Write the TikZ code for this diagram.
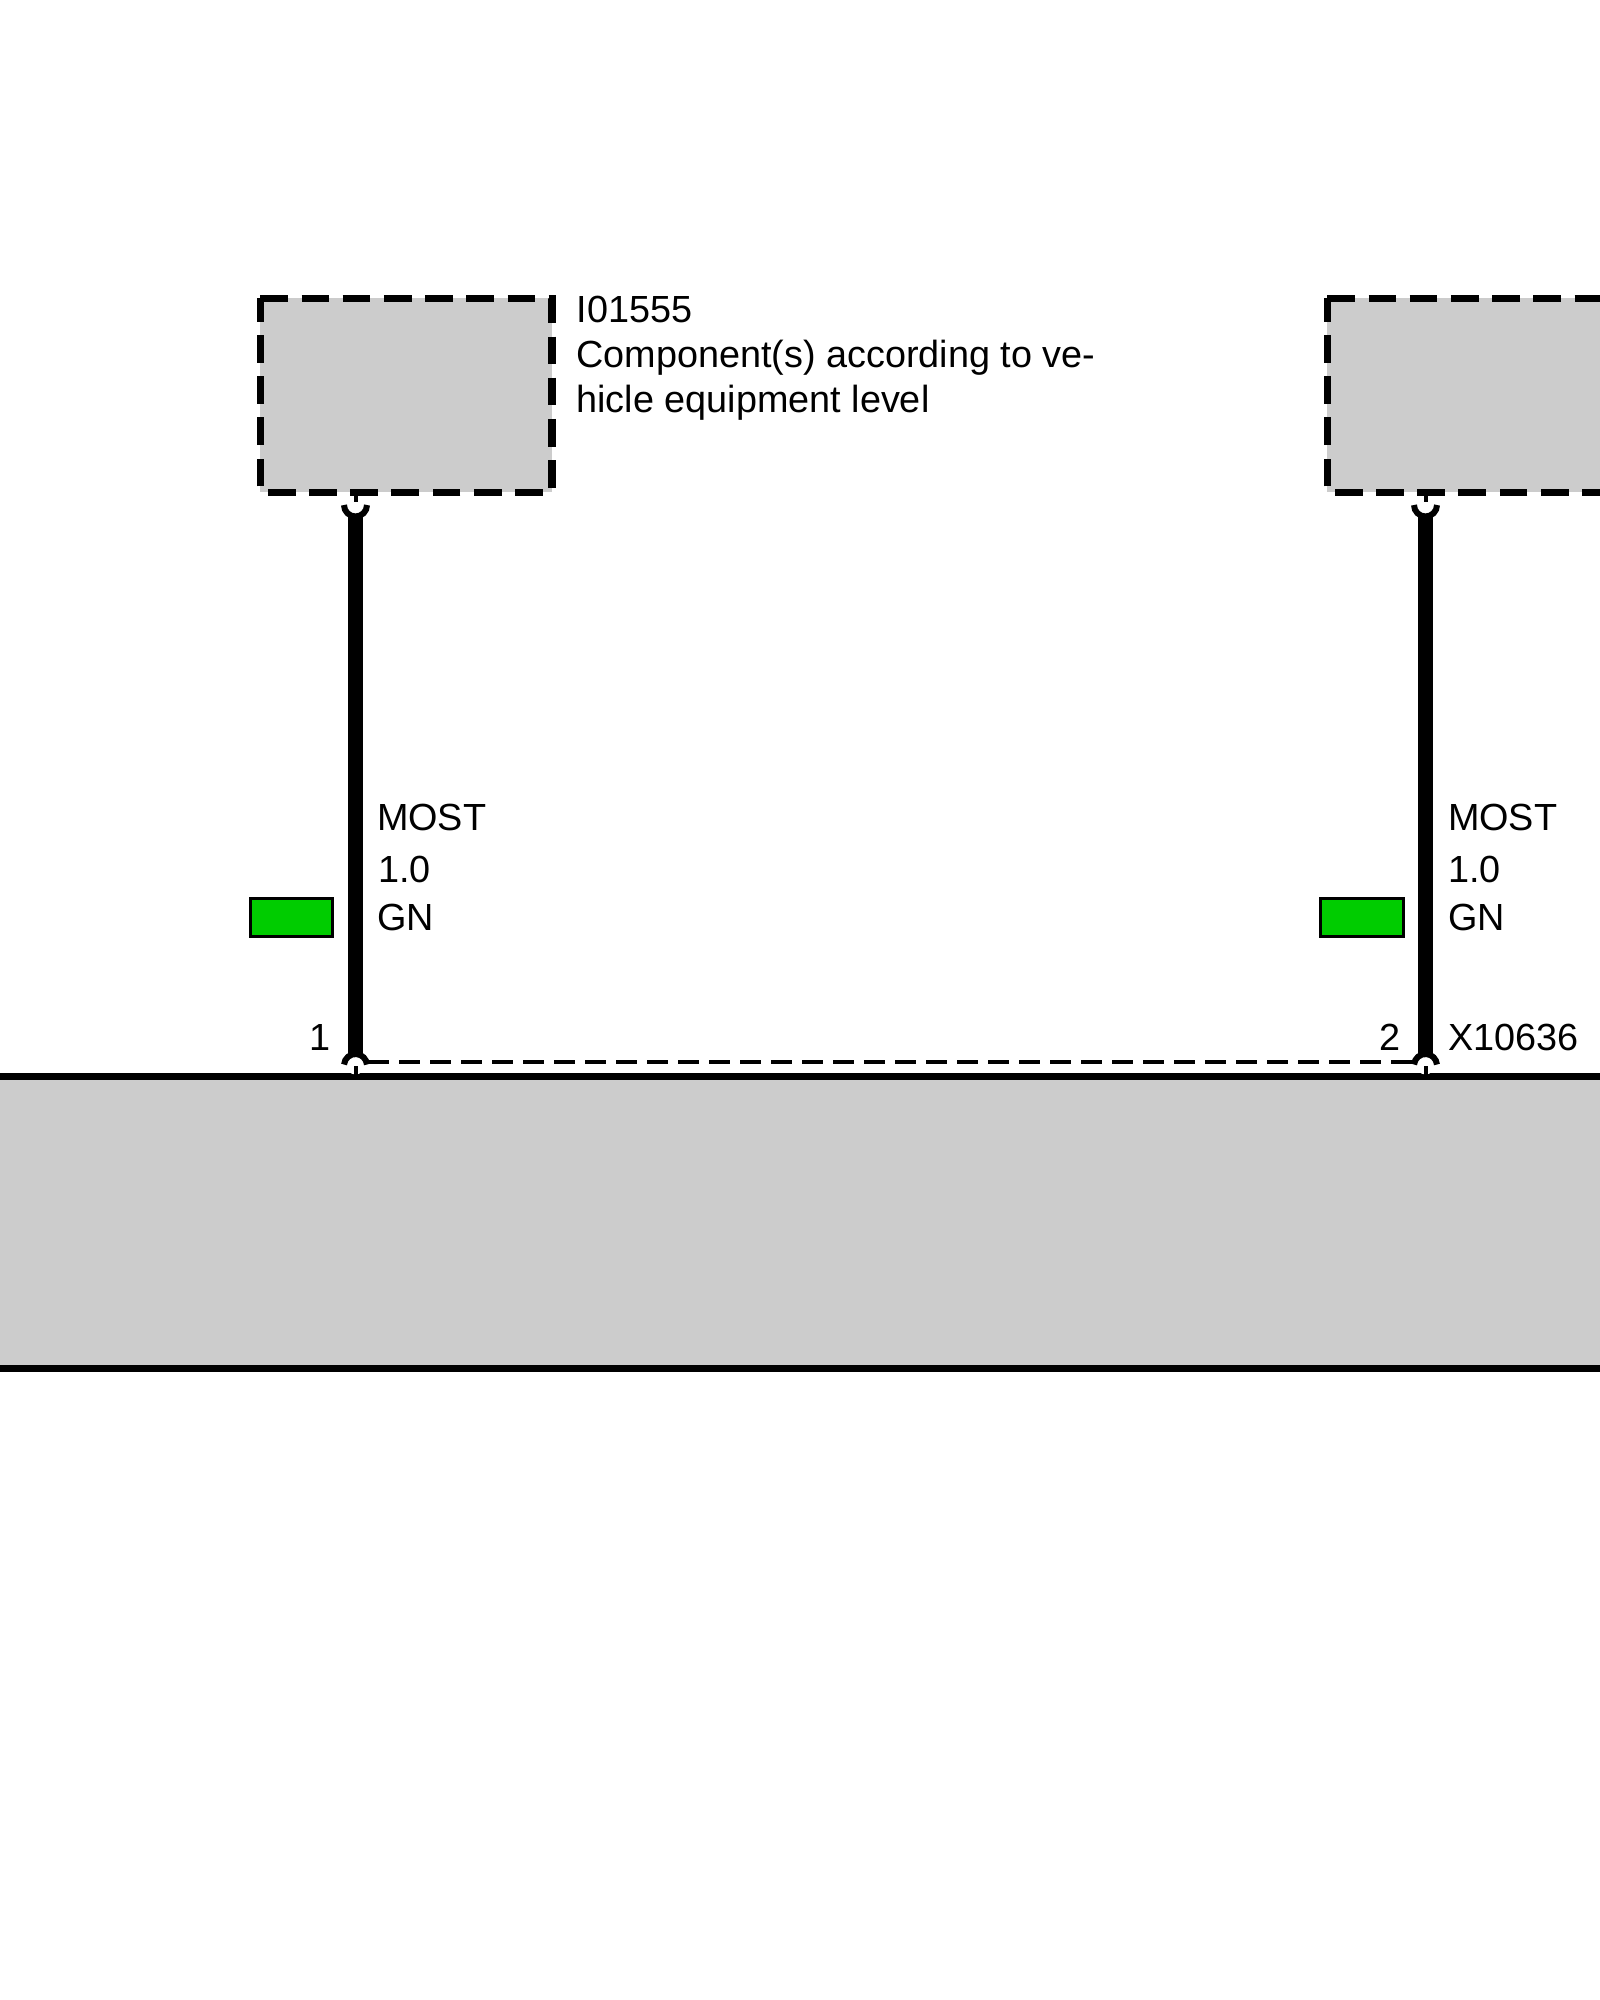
\documentclass[tikz,border=0pt]{standalone}
\usepackage{fontspec}
\setmainfont{Liberation Sans}
\tikzset{
  lbl/.style={anchor=base west,inner sep=0pt,outer sep=0pt,font=\fontsize{37.8}{37.8}\selectfont},
  compbox/.style={fill=boxgray,draw=none,inner sep=0pt,outer sep=0pt,minimum width=291.4pt,minimum height=194pt,anchor=north west},
  boxdash/.style={line width=7.6pt,dash pattern=on 27.7pt off 13.5pt,line join=miter},
  wire/.style={line width=14.6pt},
  cup/.style={line width=6pt},
  tick/.style={line width=4pt},
  swatch/.style={fill=wiregreen,draw=black,line width=3pt,inner sep=0pt,outer sep=0pt,minimum height=38pt,anchor=north west},
  bar/.style={line width=6.9pt}
}
\definecolor{boxgray}{HTML}{CCCCCC}
\definecolor{wiregreen}{HTML}{00CC00}
\begin{document}
\begin{tikzpicture}[x=1pt,y=-1pt]
\clip (0,0) rectangle (1600,2000);
\fill[white] (0,0) rectangle (1600,2000);
% main unit
\node[fill=boxgray,inner sep=0pt,outer sep=0pt,minimum width=1640pt,minimum height=291.6pt,anchor=north west] (unit) at (-20,1076.7) {};
\draw[bar] (unit.north west) -- (unit.north east);
\draw[bar] (unit.south west) -- (unit.south east);
% component boxes
\node[compbox] (c1) at (260.3,298.3) {};
\draw[boxdash] (c1.north west) -- (c1.north east) -- (c1.south east) -- (c1.south west) -- cycle;
\node[compbox] (c2) at (1327.3,298.3) {};
\draw[boxdash] (c2.north west) -- (c2.north east) -- (c2.south east) -- (c2.south west) -- cycle;
% pin coordinates
\coordinate (t1) at (355.5,505);
\coordinate (b1) at (355.5,1065.5);
\coordinate (t2) at (1425.5,505);
\coordinate (b2) at (1425.5,1065.5);
\coordinate (d1) at (368,1062.3);
\coordinate (d2) at (1412,1062.3);
% shield dashed link
\draw[tick,dash pattern=on 20.7pt off 10.3pt] (d1) -- (d2);
% wires
\draw[wire] (t1) ++(0,9) -- (b1);
\draw[wire] (t2) ++(0,9) -- (b2);
% cups
\fill[white] (b1) circle[radius=9pt];
\fill[white] (b2) circle[radius=9pt];
\draw[cup] (t1) ++(-11.5,0) arc[start angle=180,end angle=360,radius=11.5pt];
\draw[cup] (t2) ++(-11.5,0) arc[start angle=180,end angle=360,radius=11.5pt];
\draw[cup] (b1) ++(-11.46,-1) arc[start angle=175,end angle=5,radius=11.5pt];
\draw[cup] (b2) ++(-11.46,-1) arc[start angle=175,end angle=5,radius=11.5pt];
% ticks
\draw[tick] (t1 |- c1.south) -- ++(0,10);
\draw[tick] (t2 |- c2.south) -- ++(0,10);
\draw[tick] (b1 |- unit.north) -- ++(0,-11);
\draw[tick] (b2 |- unit.north) -- ++(0,-11);
% swatches
\node[swatch,minimum width=82.3pt] (s1) at (250,898.3) {};
\node[swatch,minimum width=83pt] (s2) at (1320.6,898.3) {};
% labels
\node[lbl] (n1) at (576.5,322) {I01555};
\node[lbl] (n2) at (576.5,367) {Component(s) according to ve-};
\node[lbl] (n3) at (576.5,412) {hicle equipment level};
\node[lbl] (m1) at (377,830) {MOST};
\node[lbl] (v1) at (378,882) {1.0};
\node[lbl] (g1) at (377,930) {GN};
\node[lbl] (m2) at (1448,830) {MOST};
\node[lbl] (v2) at (1448,882) {1.0};
\node[lbl] (g2) at (1448,930) {GN};
\node[lbl] (p1) at (309.3,1050) {1};
\node[lbl] (p2) at (1379,1050) {2};
\node[lbl] (x1) at (1448,1050) {X10636};
\end{tikzpicture}
\end{document}
